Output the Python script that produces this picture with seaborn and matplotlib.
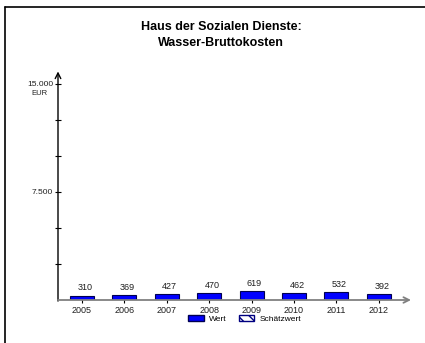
"""Haus der Sozialen Dienste - Wasser-Bruttokosten, bar chart"""

import pandas as pd
import matplotlib
matplotlib.use("Agg")
import matplotlib.pyplot as plt
from matplotlib.patches import Patch
from matplotlib.lines import Line2D
import seaborn as sns

years = ["2005", "2006", "2007", "2008", "2009", "2010", "2011", "2012"]
values = [310, 369, 427, 470, 619, 462, 532, 392]
y_ticks = [2500, 5000, 7500, 10000, 12500, 15000]
y_tick_labels = ["", "", "7.500", "", "", "15.000"]

df = pd.DataFrame({"Jahr": years, "Wert": values})

sns.set_style("white")
plt.rcParams["font.family"] = ["Liberation Sans", "DejaVu Sans"]
plt.rcParams["text.color"] = "black"

fig = plt.figure(figsize=(4.25, 3.43), dpi=100)
ax = fig.add_axes([58 / 425, 1 - 300 / 343, 353 / 425, 216 / 343])

sns.barplot(data=df, x="Jahr", y="Wert", ax=ax, color="#0000ff",
            edgecolor="#000050", linewidth=0.8, width=0.57, saturation=1)

ax.set_xlim(-0.566, 7.76)
ax.set_ylim(0, 15000)
for s in ax.spines.values():
    s.set_visible(False)

# axes with arrows
ax.annotate("", xy=(0, 1.058), xytext=(0, -0.005), xycoords="axes fraction",
            arrowprops=dict(arrowstyle="->", color="black", lw=1.0,
                            shrinkA=0, shrinkB=0))
ax.annotate("", xy=(1.0, 0), xytext=(0, 0), xycoords="axes fraction",
            arrowprops=dict(arrowstyle="->", color="#808080", lw=1.3,
                            shrinkA=0, shrinkB=0))

ax.set_yticks(y_ticks)
ax.set_yticklabels(y_tick_labels)
ax.tick_params(axis="y", direction="inout", length=5, width=0.8,
               labelsize=6, pad=1, left=True, color="black",
               labelcolor="#202020")
ax.tick_params(axis="x", direction="inout", length=5, width=0.8,
               labelsize=6.5, pad=2, bottom=True, color="black",
               labelcolor="#202020")
ax.set_xlabel("")
ax.set_ylabel("")
ax.text(-0.03, 0.955, "EUR", transform=ax.transAxes, ha="right",
        va="center", fontsize=5.5, color="#202020")

# value labels
for i, v in enumerate(values):
    ax.text(i + 0.07, v + 220, str(v), ha="center", va="bottom",
            fontsize=6.5, color="#202020")

fig.text(221 / 425, 1 - 35 / 343, "Haus der Sozialen Dienste:\nWasser-Bruttokosten",
         ha="center", va="center", fontsize=9, fontweight="bold",
         linespacing=1.35, color="black")

handles = [Patch(facecolor="#0000ff", edgecolor="#000050", label="Wert"),
           Patch(facecolor="white", edgecolor="#000080", hatch="\\\\\\",
                 label="Schätzwert")]
fig.legend(handles=handles, loc="center", bbox_to_anchor=(0.575, 1 - 319 / 343),
           ncol=2, frameon=False, fontsize=6, handlelength=1.9,
           handleheight=0.6, handletextpad=0.6, columnspacing=1.5)

# frame lines (left and top)
fig.add_artist(Line2D([5 / 425, 5 / 425], [0, 1 - 7 / 343], color="black", lw=1.2))
fig.add_artist(Line2D([5 / 425, 1], [1 - 7 / 343, 1 - 7 / 343], color="black", lw=1.2))

fig.savefig("out.png", dpi=100)
